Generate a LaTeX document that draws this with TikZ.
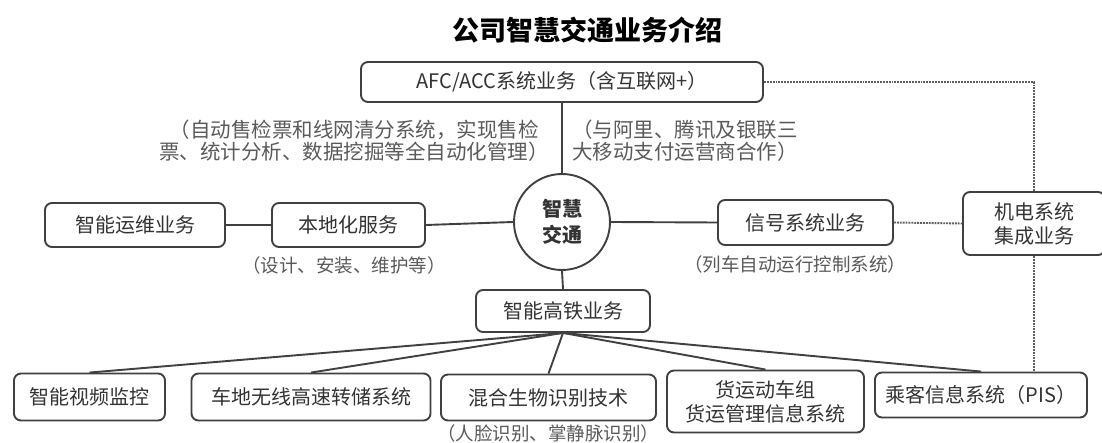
\documentclass[tikz,border=0pt]{standalone}
\usepackage{fontspec}
\setmainfont{Noto Sans CJK SC}
\usepackage{tikz}
\usetikzlibrary{positioning}
\definecolor{boxline}{HTML}{404040}
\definecolor{boxtext}{HTML}{333333}
\definecolor{notetext}{HTML}{5A5A5A}
\definecolor{dotline}{HTML}{5E5E5E}

\begin{document}
\begin{tikzpicture}[x=1pt, y=-1pt,
  biz/.style={draw=boxline, line width=1.9pt, rounded corners=7pt, text=boxtext,
    font=\fontsize{20}{24}\selectfont, align=center, inner sep=0pt},
  hub/.style={draw=boxline, line width=1.9pt, circle, minimum size=96pt, inner sep=0pt,
    text=boxtext, font=\fontsize{20}{26}\selectfont\bfseries, align=center},
  note/.style={text=notetext, font=\fontsize{18.5}{22}\selectfont, inner sep=0pt},
  topnote/.style={text=notetext, font=\fontsize{20.5}{22}\selectfont, inner sep=0pt},
  link/.style={draw=boxline, line width=1.9pt},
  dotlink/.style={draw=dotline, line width=1.9pt, densely dotted}]
\useasboundingbox (0,0) rectangle (1102,443);
\fill[white] (0,0) rectangle (1102,443);

% title
\node[font=\fontsize{27}{30}\selectfont\bfseries] (title) at (587,30) {公司智慧交通业务介绍};

% centre and top branch
\node[hub] (hub) at (562,222) {智慧\\交通};
\node[biz, minimum width=402pt, minimum height=40pt] (afc) at (562,82) {AFC/ACC系统业务（含互联网+）};
\node[topnote, align=center] (afcnote) at (354,141) {（自动售检票和线网清分系统，实现售检\\票、统计分析、数据挖掘等全自动化管理）};
\node[topnote, align=left, anchor=west] (paynote) at (572,141) {（与阿里、腾讯及银联三\\大移动支付运营商合作）};

% left branch
\node[biz, minimum width=153pt, minimum height=44pt] (local) at (348.5,225) {本地化服务};
\node[biz, minimum width=180pt, minimum height=44pt] (ops) at (135,225) {智能运维业务};
\node[note] (localnote) at (344,265) {（设计、安装、维护等）};

% right branch
\node[biz, minimum width=175pt, minimum height=45pt] (signal) at (805.5,222.5) {信号系统业务};
\node[note] (signalnote) at (795,264) {（列车自动运行控制系统）};
\node[biz, minimum width=142pt, minimum height=63pt] (mep) at (1034,223.5) {机电系统\\集成业务};

% bottom branch
\node[biz, minimum width=174pt, minimum height=42pt] (hsr) at (563,311) {智能高铁业务};
\node[biz, minimum width=151pt, minimum height=47pt] (video) at (89.5,397) {智能视频监控};
\node[biz, minimum width=239pt, minimum height=47pt] (dump) at (311,397) {车地无线高速转储系统};
\node[biz, minimum width=215pt, minimum height=46pt] (bio) at (548.5,397.5) {混合生物识别技术};
\node[biz, minimum width=197pt, minimum height=62pt] (freight) at (765.5,401.5) {货运动车组\\货运管理信息系统};
\node[biz, minimum width=212pt, minimum height=45pt] (pis) at (981,395) {乘客信息系统（PIS）};
\node[note] (bionote) at (548,433) {（人脸识别、掌静脉识别）};

% solid connectors
\draw[link] (afc.south) -- (hub.north);
\draw[link] (hub.west) -- (local.east);
\draw[link] (local.west) -- (ops.east);
\draw[link] (hub.east) -- (signal.west);
\draw[link] (hub.south) -- (hsr.north);
\foreach \leaf in {video, dump, bio, freight, pis}
  \draw[link] (hsr.south) -- (\leaf.north);

% dotted connectors
\draw[dotlink] (afc.east) -| (mep.north);
\draw[dotlink] (signal.east) -- (mep.west);
\draw[dotlink] (mep.south) -- (mep.south |- pis.north);

\end{tikzpicture}
\end{document}
